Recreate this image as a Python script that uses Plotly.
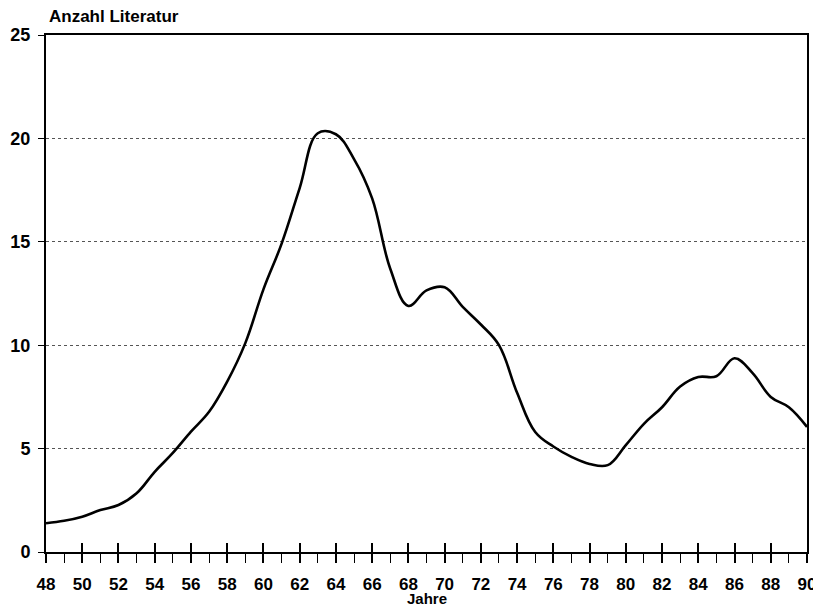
import plotly.graph_objects as go

years = list(range(48, 91))
anzahl = [1.39, 1.51, 1.71, 2.03, 2.27, 2.84, 3.88, 4.79, 5.82, 6.78,
          8.24, 10.1, 12.7, 14.9, 17.6, 20.25, 20.2, 19.0, 17.1, 13.7,
          11.9, 12.65, 12.8, 11.85, 11.0, 10.0, 7.7, 5.8, 5.1, 4.6,
          4.26, 4.2, 5.17, 6.2, 7.0, 8.0, 8.46, 8.5, 9.37, 8.65,
          7.5, 7.0, 6.05]
y_ticks = [0, 5, 10, 15, 20, 25]
x_major = list(range(48, 91, 2))

FONT = "Liberation Sans, Arial, sans-serif"

fig = go.Figure()
fig.add_trace(go.Scatter(
    x=years, y=anzahl, mode="lines",
    line=dict(color="black", width=2.6, shape="spline", smoothing=1.1),
    showlegend=False, hoverinfo="skip"))
# invisible trace to activate the overlay axis (inner half of major ticks)
fig.add_trace(go.Scatter(
    x=years, y=anzahl, mode="lines", xaxis="x2",
    line=dict(color="rgba(0,0,0,0)", width=0),
    showlegend=False, hoverinfo="skip"))

fig.update_layout(
    width=813, height=601,
    margin=dict(l=38, r=14, t=27, b=57, autoexpand=False),
    paper_bgcolor="white", plot_bgcolor="white",
    font=dict(family=FONT, color="black"),
    xaxis=dict(
        range=[48, 90], tickvals=x_major, ticktext=[str(v) for v in x_major],
        ticks="outside", ticklen=9, tickwidth=1.5, tickcolor="black",
        minor=dict(ticks="outside", ticklen=9, tickwidth=1.2, tickcolor="black", dtick=1, tick0=48),
        showline=True, linecolor="black", linewidth=1.8, mirror=True,
        showgrid=False, zeroline=False, automargin=False,
        tickfont=dict(family=FONT, size=17, color="black", weight="bold"),
        ticklabelstandoff=7,
    ),
    xaxis2=dict(
        range=[48, 90], overlaying="x", anchor="y", side="bottom",
        tickvals=x_major, ticks="inside", ticklen=9, tickwidth=1.5, tickcolor="black",
        showticklabels=False, showline=False, showgrid=False, zeroline=False,
        automargin=False,
    ),
    yaxis=dict(
        range=[0, 25], tickvals=y_ticks, ticktext=[str(v) for v in y_ticks],
        ticks="outside", ticklen=6, tickwidth=1.2, tickcolor="black",
        showline=True, linecolor="black", linewidth=2, mirror=True,
        showgrid=True, gridcolor="#555555", gridwidth=1, griddash="dot",
        zeroline=False, automargin=False,
        tickfont=dict(family=FONT, size=18, color="black", weight="bold"),
        ticklabelstandoff=4,
    ),
    annotations=[
        dict(text="<b>Anzahl Literatur</b>", xref="paper", yref="paper",
             x=0, y=1, xanchor="left", yanchor="bottom", yshift=7, xshift=1,
             showarrow=False, font=dict(family=FONT, size=17, color="black")),
        dict(text="<b>Jahre</b>", xref="paper", yref="paper",
             x=0.5, y=0, xanchor="center", yanchor="bottom", yshift=-57,
             showarrow=False, font=dict(family=FONT, size=15, color="black")),
    ],
)

fig.write_html("out.html")
